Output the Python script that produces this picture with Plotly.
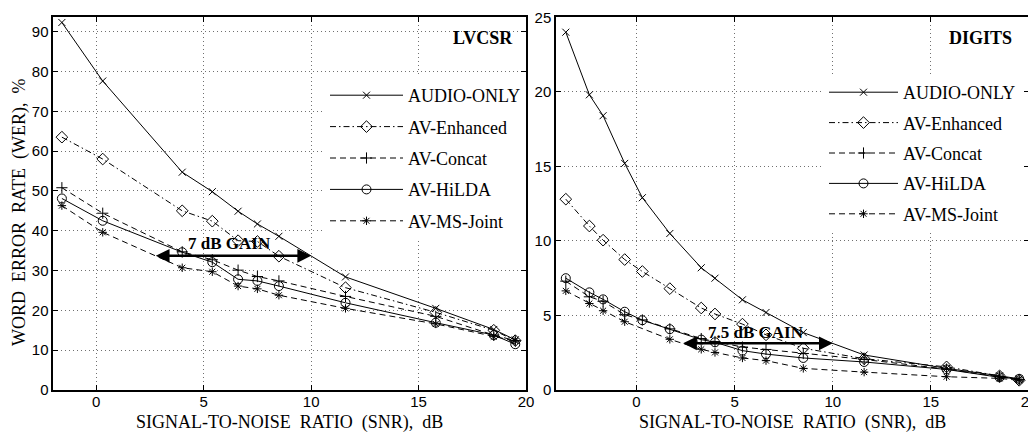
import plotly.graph_objects as go

# ---------------- data ----------------
series_names = ["AUDIO-ONLY", "AV-Enhanced", "AV-Concat", "AV-HiLDA", "AV-MS-Joint"]

snr_lvcsr = [-1.6, 0.3, 4.0, 5.4, 6.6, 7.5, 8.5, 11.6, 15.8, 18.5, 19.5]
lvcsr_audio = [92.3, 77.6, 54.7, 49.8, 44.9, 41.7, 38.6, 28.4, 20.5, 15.2, 12.6]
lvcsr_enhanced = [63.5, 58.0, 45.0, 42.4, 37.5, 37.3, 33.6, 25.7, 19.5, 15.0, 12.4]
lvcsr_concat = [50.8, 44.4, 34.7, 32.7, 30.1, 28.5, 27.4, 23.5, 18.5, 13.8, 12.4]
lvcsr_hilda = [48.1, 42.5, 34.6, 32.1, 27.8, 27.4, 26.1, 21.9, 16.9, 13.8, 11.5]
lvcsr_msjoint = [46.3, 39.6, 30.7, 29.7, 26.1, 25.4, 23.8, 20.5, 16.6, 13.4, 12.3]

snr_digits = [-3.6, -2.4, -1.7, -0.6, 0.3, 1.7, 3.3, 4.0, 5.4, 6.6, 8.5, 11.6, 15.8, 18.5, 19.5]
digits_audio = [24.0, 19.8, 18.4, 15.2, 12.9, 10.5, 8.2, 7.5, 6.05, 5.2, 3.85, 2.35, 1.45, 0.95, 0.75]
digits_enhanced = [12.8, 11.0, 10.05, 8.75, 7.95, 6.8, 5.5, 5.1, 4.42, 3.7, 2.8, 2.1, 1.55, 0.95, 0.65]
digits_concat = [7.3, 6.25, 5.95, 5.05, 4.7, 4.1, 3.45, 3.25, 2.88, 2.72, 2.45, 2.05, 1.4, 0.9, 0.7]
digits_hilda = [7.5, 6.55, 6.08, 5.25, 4.68, 4.08, 3.38, 3.2, 2.64, 2.41, 2.15, 1.88, 1.38, 0.85, 0.75]
digits_msjoint = [6.65, 5.8, 5.32, 4.58, None, 3.4, 2.73, 2.52, 2.15, 1.97, 1.45, 1.2, 0.89, 0.78, 0.65]

lvcsr_gain = {"from": 2.7, "to": 10.0, "level": 33.7, "label": "7 dB GAIN"}
digits_gain = {"from": 2.3, "to": 10.0, "level": 3.13, "label": "7.5 dB GAIN"}

x_ticks = [0, 5, 10, 15, 20]
lvcsr_y_ticks = [0, 10, 20, 30, 40, 50, 60, 70, 80, 90]
digits_y_ticks = [0, 5, 10, 15, 20, 25]

# ---------------- layout helpers (page has an 8px body margin) ----------------
OFF = 8
W, H = 1036 - OFF, 433 - OFF


def px_x(ref_x):
    return (ref_x - OFF) / W


def px_y(ref_y):
    return (H - (ref_y - OFF)) / H


# ---------------- styles ----------------
styles = [
    dict(symbol="x-thin-open", size=7, dash="solid"),
    dict(symbol="diamond-open", size=9, dash="6px,3px,1.5px,3px"),
    dict(symbol="cross-thin-open", size=8, dash="6px,4px"),
    dict(symbol="circle-open", size=9, dash="solid"),
    dict(symbol="asterisk-open", size=7, dash="6px,4px"),
]

SERIF = "Liberation Serif"
SANS = "Liberation Sans"

fig = go.Figure()

panels = [
    (snr_lvcsr, [lvcsr_audio, lvcsr_enhanced, lvcsr_concat, lvcsr_hilda, lvcsr_msjoint], "x", "y", "legend", "L"),
    (snr_digits, [digits_audio, digits_enhanced, digits_concat, digits_hilda, digits_msjoint], "x2", "y2", "legend2", "D"),
]
for snr, ys, xa, ya, leg, tag in panels:
    for i, (name, vals) in enumerate(zip(series_names, ys)):
        st = styles[i]
        fig.add_trace(go.Scatter(
            x=snr, y=vals, name=name, mode="lines+markers",
            xaxis=xa, yaxis=ya, legend=leg, legendgroup=f"{tag}{i}",
            connectgaps=True,
            line=dict(color="black", width=1, dash=st["dash"]),
            marker=dict(symbol=st["symbol"], size=st["size"], color="black",
                        line=dict(color="black", width=1)),
        ))

axis_common = dict(
    showline=True, linecolor="black", linewidth=1.5, mirror="ticks",
    ticks="inside", ticklen=5, tickwidth=1, tickcolor="black",
    showgrid=True, gridcolor="#707070", griddash="1px,3px", gridwidth=1,
    zeroline=False, automargin=False, ticklabeloverflow="allow",
    tickfont=dict(family=SANS, size=15, color="black"),
)

ydom = [px_y(390), px_y(17.3)]
fig.update_layout(
    template="none",
    width=W, height=H,
    margin=dict(l=0, r=0, t=0, b=0, pad=0, autoexpand=False),
    paper_bgcolor="white", plot_bgcolor="white",
    xaxis=dict(domain=[px_x(53.3), px_x(526)], range=[-2, 20], tickvals=x_ticks, anchor="y",
               ticklabelstandoff=-3, **axis_common),
    yaxis=dict(domain=ydom, range=[0, 93.6], tickvals=lvcsr_y_ticks, anchor="x", **axis_common),
    xaxis2=dict(domain=[px_x(556), px_x(1029)], range=[-4.1, 20], tickvals=x_ticks, anchor="y2",
                ticklabelstandoff=-3, **axis_common),
    yaxis2=dict(domain=ydom, range=[0, 25], tickvals=digits_y_ticks, anchor="x2", **axis_common),
    legend=dict(x=px_x(325), y=px_y(77), xanchor="left", yanchor="top", bgcolor="white", borderwidth=0,
                font=dict(family=SERIF, size=18, color="black"), itemwidth=73,
                tracegroupgap=5, traceorder="grouped"),
    legend2=dict(x=px_x(824), y=px_y(74), xanchor="left", yanchor="top", bgcolor="white", borderwidth=0,
                 font=dict(family=SERIF, size=18, color="black"), itemwidth=69,
                 tracegroupgap=4, traceorder="grouped"),
    showlegend=True,
)

ann = []
title_font = dict(family=SERIF, size=18, color="black")
for x0, x1 in [(53.3, 526), (556, 1029)]:
    ann.append(dict(text="SIGNAL-TO-NOISE  RATIO  (SNR),  dB", xref="paper", yref="paper",
                    x=px_x((x0 + x1) / 2), y=px_y(422), xanchor="center", yanchor="middle",
                    borderpad=0, showarrow=False, font=title_font))
ann.append(dict(text="WORD  ERROR  RATE  (WER),  %", xref="paper", yref="paper",
                x=px_x(20), y=px_y(213), xanchor="center", yanchor="middle",
                textangle=-90, showarrow=False, font=title_font))
ann.append(dict(text="<b>LVCSR</b>", xref="paper", yref="paper", x=px_x(515), y=px_y(38),
                xanchor="right", yanchor="middle", showarrow=False,
                font=dict(family=SERIF, size=18, color="black")))
ann.append(dict(text="<b>DIGITS</b>", xref="paper", yref="paper", x=px_x(1014), y=px_y(38),
                xanchor="right", yanchor="middle", showarrow=False,
                font=dict(family=SERIF, size=18, color="black")))
for g, xr, yr, tx, ty in [(lvcsr_gain, "x", "y", 6.2, 36.9), (digits_gain, "x2", "y2", 6.09, 3.89)]:
    ann.append(dict(x=g["to"], y=g["level"], ax=g["from"], ay=g["level"], xref=xr, yref=yr,
                    axref=xr, ayref=yr, text="", showarrow=True, arrowhead=2, arrowside="end+start",
                    arrowwidth=2.5, arrowsize=1.1, arrowcolor="black", standoff=0, startstandoff=0))
    ann.append(dict(text="<b>" + g["label"] + "</b>", x=tx, y=ty, xref=xr, yref=yr,
                    xanchor="center", yanchor="middle", showarrow=False,
                    font=dict(family=SERIF, size=17, color="black")))
fig.update_layout(annotations=ann)

fig.write_html("out.html")
